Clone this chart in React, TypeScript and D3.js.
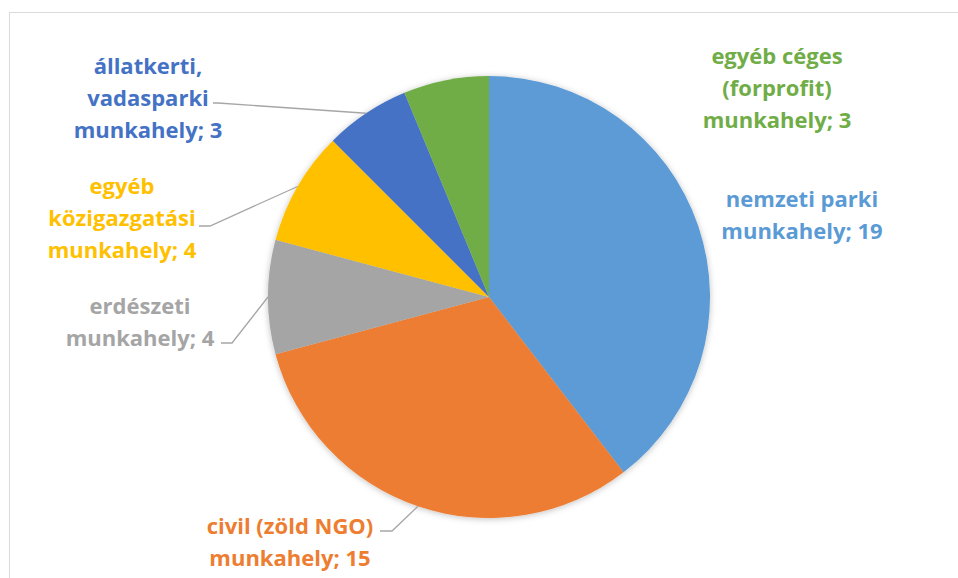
import React from "react";
import * as d3 from "d3";

const categories = [
  "nemzeti parki munkahely",
  "civil (zöld NGO) munkahely",
  "erdészeti munkahely",
  "egyéb közigazgatási munkahely",
  "állatkerti, vadasparki munkahely",
  "egyéb céges (forprofit) munkahely",
];
const values = [19, 15, 4, 4, 3, 3];
const colors = ["#5B9BD5", "#ED7D31", "#A5A5A5", "#FFC000", "#4472C4", "#70AD47"];
const labelLines = [
  ["nemzeti parki", "munkahely; 19"],
  ["civil (zöld NGO)", "munkahely; 15"],
  ["erdészeti", "munkahely; 4"],
  ["egyéb", "közigazgatási", "munkahely; 4"],
  ["állatkerti,", "vadasparki", "munkahely; 3"],
  ["egyéb céges", "(forprofit)", "munkahely; 3"],
];

// label layout (center x, first-line center y, leader line start x/y, or null)
const labelLayout = [
  { x: 802, y: 198, leader: null as null | [number, number, number] },
  { x: 290, y: 525, leader: [380, 392, 531] as [number, number, number] },
  { x: 140, y: 305, leader: [221, 232, 343] as [number, number, number] },
  { x: 122, y: 185, leader: [199, 210, 226] as [number, number, number] },
  { x: 148, y: 65, leader: [213, 218, 103] as [number, number, number] },
  { x: 777, y: 55, leader: null as null | [number, number, number] },
];

const W = 958;
const H = 578;
const cx = 489;
const cy = 297;
const R = 221;
const lineH = 32;

export default function App() {
  const pie = d3.pie<number>().sort(null).value((d) => d)(values);
  const arc = d3.arc<d3.PieArcDatum<number>>().innerRadius(0).outerRadius(R);
  const edge = d3.arc<d3.PieArcDatum<number>>().innerRadius(R).outerRadius(R);

  return (
    <svg
      width={W}
      height={H}
      style={{ position: "absolute", left: 0, top: 0, background: "#fff" }}
    >
      <defs>
        <filter id="sh" x="-20%" y="-20%" width="140%" height="140%">
          <feDropShadow dx="0" dy="1" stdDeviation="3" floodColor="#000" floodOpacity="0.25" />
        </filter>
      </defs>
      <rect x={9.5} y={12.5} width={W + 20} height={H + 20} fill="#fff" stroke="#D9D9D9" strokeWidth={1} />
      <g transform={`translate(${cx},${cy})`} filter="url(#sh)">
        {pie.map((p, i) => (
          <path key={categories[i]} d={arc(p) || ""} fill={colors[i]} />
        ))}
      </g>
      {pie.map((p, i) => {
        const L = labelLayout[i];
        if (!L.leader) return null;
        const [ex, ey] = edge.centroid(p);
        const [x0, x1, y0] = L.leader;
        return (
          <polyline
            key={"l" + i}
            points={`${x0},${y0} ${x1},${y0} ${cx + ex},${cy + ey}`}
            fill="none"
            stroke="#A6A6A6"
            strokeWidth={1.3}
          />
        );
      })}
      {labelLines.map((lines, i) => {
        const L = labelLayout[i];
        return (
          <text
            key={"t" + i}
            textAnchor="middle"
            fontFamily="'Open Sans', sans-serif"
            fontWeight="bold"
            fontSize={22}
            fill={colors[i]}
          >
            {lines.map((s, j) => (
              <tspan key={j} x={L.x} y={L.y + j * lineH} dominantBaseline="central">
                {s}
              </tspan>
            ))}
          </text>
        );
      })}
    </svg>
  );
}
